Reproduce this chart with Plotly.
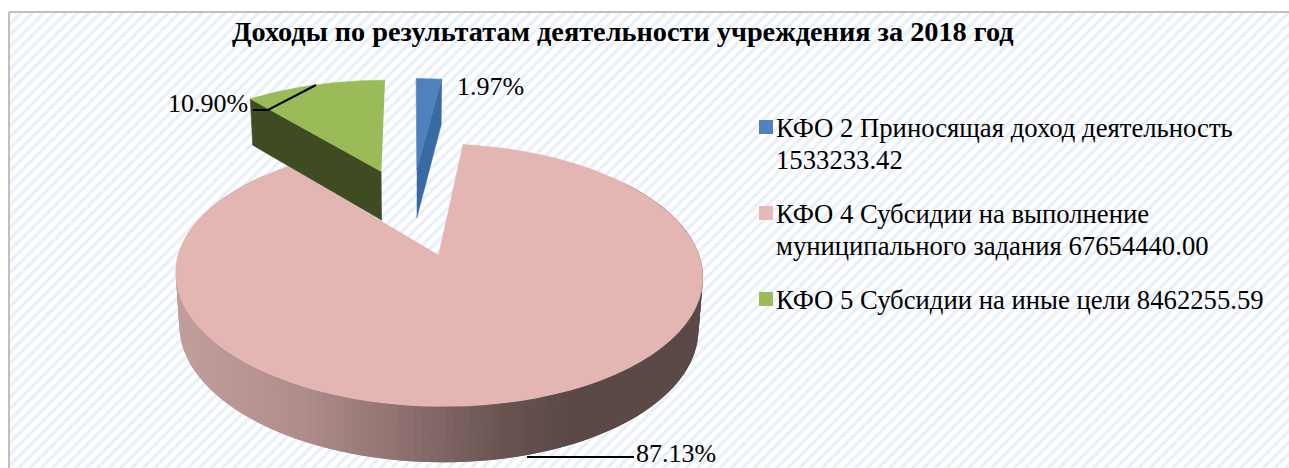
import numpy as np
import plotly.graph_objects as go

TITLE = "Доходы по результатам деятельности учреждения за 2018 год"
categories = ["КФО 2", "КФО 4", "КФО 5"]
values = [1533233.42, 67654440.00, 8462255.59]
legend_lines = [
    ["КФО 2 Приносящая доход деятельность", "1533233.42"],
    ["КФО 4 Субсидии на выполнение", "муниципального задания 67654440.00"],
    ["КФО 5 Субсидии на иные цели 8462255.59"],
]
top_colors = ["#4F81BD", "#E3B5B3", "#9BBB59"]
swatch_colors = ["#4F81BD", "#E6B9B8", "#9BBB59"]

W, H = 1289, 468
X0, Y0, RX, RY, K, EXPL, DEPTH = 411.3, 210.7, 246.6, 115.0, 0.145, 0.38, 50.0
FONT = "Liberation Serif"

total = sum(values)
fracs = [v / total for v in values]
edges = np.cumsum([0] + fracs) * 360.0


def project(u, v, down=False):
    u, v = np.asarray(u, float), np.asarray(v, float)
    w = 1 + K * v
    x = X0 + RX * u / w
    y = Y0 - RY * v / w
    if down:
        d = DEPTH / np.sqrt(w)
        x = X0 + (x - X0) * 0.985
        y = y + d
    return x, y


def offset(i):
    m = np.radians((edges[i] + edges[i + 1]) / 2)
    return EXPL * np.sin(m), EXPL * np.cos(m)


def rim(i, a):
    ou, ov = offset(i)
    r = np.radians(a)
    return ou + np.sin(r), ov + np.cos(r)


def poly(x, y, color, lw=0.6):
    return go.Scatter(x=list(x), y=list(y), mode="lines", fill="toself", fillcolor=color,
                      line=dict(color=color, width=lw), hoverinfo="skip", showlegend=False)


def sector(i, color):
    a = np.linspace(edges[i], edges[i + 1], 90)
    u, v = rim(i, a)
    ou, ov = offset(i)
    x, y = project(np.r_[ou, u], np.r_[ov, v])
    return poly(x, y, color)


def wall(i, a, color):
    ou, ov = offset(i)
    u, v = rim(i, a)
    x1, y1 = project([ou, u], [ov, v])
    x2, y2 = project([u, ou], [v, ov], down=True)
    return poly(np.r_[x1, x2], np.r_[y1, y2], color)


stops_x = [175, 300, 400, 500, 570, 710]
stops_c = np.array([[0xC2, 0x9E, 0x9C], [0xB0, 0x8D, 0x8C], [0x8F, 0x71, 0x70],
                    [0x6A, 0x54, 0x52], [0x5B, 0x49, 0x47], [0x5A, 0x49, 0x47]], float)


def side_color(x):
    c = [np.interp(x, stops_x, stops_c[:, j]) for j in range(3)]
    return "rgb(%d,%d,%d)" % tuple(int(round(t)) for t in c)


fig = go.Figure()
# hatched chart background
fig.add_trace(go.Scatter(x=[9, W + 2, W + 2, 9, 9], y=[12, 12, H + 2, H + 2, 12], mode="lines", fill="toself",
                         fillcolor="white", line=dict(color="#BFBFBF", width=2),
                         fillpattern=dict(shape="/", size=8, solidity=0.4, fgcolor="#D3E0F2", bgcolor="white"),
                         hoverinfo="skip", showlegend=False))

# pink outer side as fine overlapping strips, so no seams show
angs = np.arange(52.0, 312.0, 1.5)
for a0, a1 in zip(angs[:-1], angs[1:]):
    a = np.linspace(a0, a0 + 3.0, 4)
    u, v = rim(1, a)
    xt, yt = project(u, v)
    xb, yb = project(u[::-1], v[::-1], down=True)
    xm, _ = project(*rim(1, np.array([(a0 + a1) / 2])))
    fig.add_trace(poly(np.r_[xt, xb], np.r_[yt, yb], side_color(float(xm[0])), lw=0))
fig.add_trace(sector(1, top_colors[1]))

# green slice
fig.add_trace(wall(2, edges[2], "#3F4B21"))
fig.add_trace(sector(2, top_colors[2]))

# blue slice
fig.add_trace(wall(0, edges[1], "#3A6AA2"))
fig.add_trace(sector(0, top_colors[0]))

# leader lines
for xs, ys in [([527, 634], [457, 457]), ([316, 268, 253], [85, 110, 110])]:
    fig.add_trace(go.Scatter(x=xs, y=ys, mode="lines", line=dict(color="black", width=2),
                             hoverinfo="skip", showlegend=False))

ann = [dict(x=622.5, y=31.5, text="<b>%s</b>" % TITLE, xanchor="center", yanchor="middle",
            showarrow=False, font=dict(family=FONT, size=28.3, color="black"))]
labels = ["%.2f%%" % (100 * f) for f in fracs]
for txt, x, y, anc in [(labels[0], 455, 86, "left"), (labels[1], 634, 453, "left"), (labels[2], 250, 103, "right")]:
    ann.append(dict(x=x, y=y, text=txt, xanchor=anc, yanchor="middle", showarrow=False,
                    font=dict(family=FONT, size=26, color="black")))

legend_y = [[127.5, 159.5], [213.5, 245.5], [299.5]]
swatch_y = [127, 213, 299]
shapes = []
for lines, ys, col, sy in zip(legend_lines, legend_y, swatch_colors, swatch_y):
    shapes.append(dict(type="rect", x0=759, x1=773, y0=sy - 7, y1=sy + 7, fillcolor=col, line=dict(width=0),
                       xref="x", yref="y"))
    for t, y in zip(lines, ys):
        ann.append(dict(x=774, y=y, text=t, xanchor="left", yanchor="middle", showarrow=False,
                        font=dict(family=FONT, size=26.7, color="black")))

fig.update_layout(width=W, height=H, margin=dict(l=0, r=0, t=0, b=0), paper_bgcolor="white", plot_bgcolor="white",
                  xaxis=dict(range=[0, W], visible=False, fixedrange=True),
                  yaxis=dict(range=[H, 0], visible=False, fixedrange=True),
                  annotations=ann, shapes=shapes, showlegend=False)
fig.write_html("out.html", config=dict(displayModeBar=False),
               post_script="document.body.style.margin='0';document.body.style.overflow='hidden';")
